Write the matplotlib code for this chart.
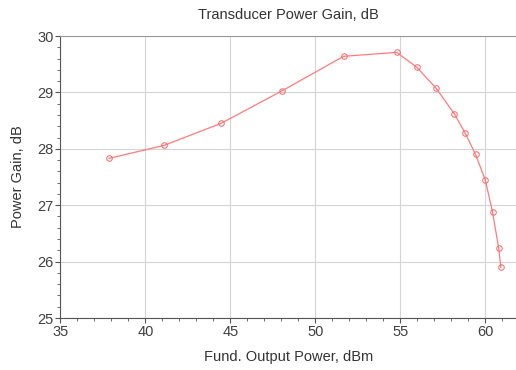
import matplotlib.pyplot as plt
from matplotlib.ticker import MultipleLocator

# Transducer gain vs fundamental output power
pout_dbm = [37.85, 41.09, 44.44, 48.05, 51.66, 54.78, 55.95, 57.11,
            58.17, 58.81, 59.42, 59.99, 60.42, 60.78, 60.91]
gain_db = [27.83, 28.06, 28.45, 29.03, 29.64, 29.71, 29.45, 29.07,
           28.62, 28.28, 27.90, 27.45, 26.88, 26.24, 25.90]

plt.rcParams["font.family"] = ["Liberation Sans", "DejaVu Sans"]

fig = plt.figure(figsize=(5.16, 3.70), dpi=100)
ax = fig.add_axes([0.1172, 0.1405, 0.8828, 0.7622])

ax.plot(pout_dbm, gain_db, color="#ff7a7a", lw=0.9, marker="o", ms=4,
        mfc="none", mec="#ff6464", mew=0.7, zorder=3)

ax.set_xlim(35, 61.8)
ax.set_ylim(25, 30)
ax.xaxis.set_major_locator(MultipleLocator(5))
ax.xaxis.set_minor_locator(MultipleLocator(1))
ax.yaxis.set_major_locator(MultipleLocator(1))
ax.yaxis.set_minor_locator(MultipleLocator(0.2))
ax.grid(True, which="major", color="#d4d4d4", lw=0.8)
ax.set_axisbelow(True)

ax.spines["right"].set_visible(False)
ax.spines["top"].set_color("#999999")
for s in ("left", "bottom"):
    ax.spines[s].set_color("#555555")
ax.tick_params(which="major", length=3.5, color="#555555", labelsize=10.5,
               labelcolor="#404040", pad=1.5)
ax.tick_params(which="minor", length=2.5, color="#555555")

ax.set_title("Transducer Power Gain, dB", fontsize=10.5, color="#333333", pad=12)
ax.set_xlabel("Fund. Output Power, dBm", fontsize=10.5, color="#333333", labelpad=8)
ax.set_ylabel("Power Gain, dB", fontsize=10.5, color="#333333", labelpad=9)

fig.savefig("out.png", dpi=100)
